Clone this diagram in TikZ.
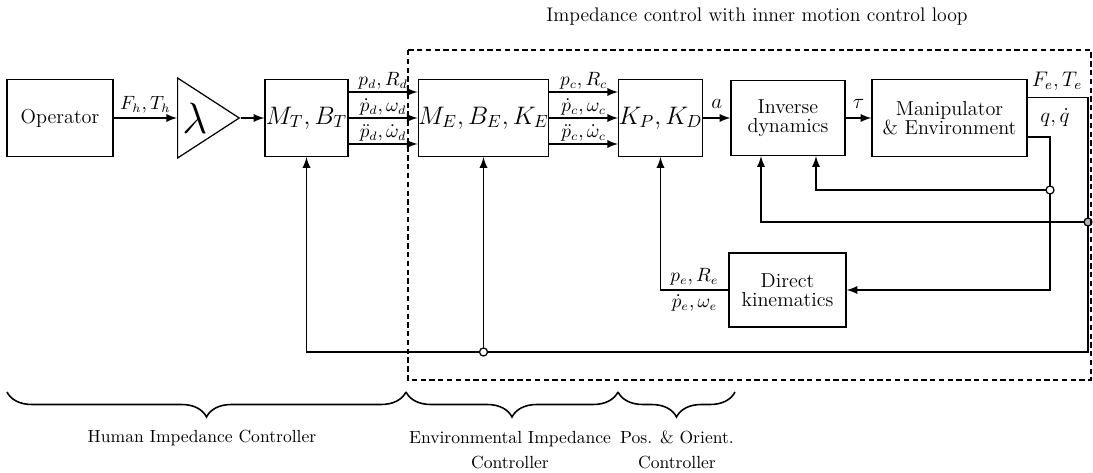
\documentclass[tikz,border=0pt]{standalone}
\usepackage{amsmath}
\usetikzlibrary{arrows,positioning,shapes.geometric,decorations.pathreplacing}
\tikzset{>=latex}

\begin{document}
\begin{tikzpicture}[x=0.02cm, y=-0.02cm,
	block/.style={draw, line width=0.7pt, inner sep=0pt, minimum height=1.54cm, align=center, font=\fontsize{11.5}{11}\selectfont},
	gain/.style={draw, line width=0.7pt, isosceles triangle, isosceles triangle stretches, minimum width=1.6cm, minimum height=1.2cm, inner sep=0pt},
	sig/.style={line width=1.1pt},
	lbl/.style={font=\fontsize{10.5}{10.5}\selectfont, inner sep=0pt},
	biglbl/.style={font=\fontsize{13}{13}\selectfont, inner sep=1pt},
	joint/.style={circle, draw, line width=0.7pt, fill=white, inner sep=0pt, minimum size=0.16cm},
	brc/.style={decorate, decoration={brace, mirror, amplitude=0.5cm}, line width=0.9pt},
	ctl/.style={align=center, font=\fontsize{10}{14.2}\selectfont}]
	\useasboundingbox (0,0) rectangle (1093,473);

	% blocks
	\node[block, minimum width=2.12cm] (op) at (60,118) {Operator};
	\node[gain, anchor=west] (lam) at (177,118) {\fontsize{23}{23}\selectfont$\lambda$};
	\node[block, minimum width=1.66cm] (mt) at (306.5,118) {\fontsize{14}{14}\selectfont$M_T{,}\,B_T$};
	\node[block, minimum width=2.5cm] (me) at (483.5,118) {\fontsize{14}{14}\selectfont$M_E{,}\,B_E{,}\,K_E$};
	\node[block, minimum width=1.66cm] (kp) at (660.5,118) {\fontsize{14}{14}\selectfont$K_P{,}\,K_D$};
	\node[block, minimum width=2.28cm, minimum height=1.5cm] (inv) at (788,118) {Inverse\\dynamics};
	\node[block, minimum width=3.1cm] (man) at (949.5,118) {Manipulator\\\& Environment};
	\node[block, minimum width=2.34cm, minimum height=1.48cm] (dk) at (787.5,290) {Direct\\kinematics};

	\coordinate (qj) at (1050,190);
	\coordinate (fj) at (1088,222);
	\coordinate (bj) at (me.south |- 0,352);

	% forward path
	\draw[sig,->] (op) -- node[lbl, above=2pt, font=\fontsize{10.5}{10.5}\selectfont] {$F_h{,}\,T_h$} (lam);
	\draw[sig,->] (lam.apex) -- (mt);
	\draw[sig,->] ([yshift=0.52cm]mt.east) -- node[lbl, above=1pt] {$p_d{,}\,R_d$} ([yshift=0.52cm]me.west);
	\draw[sig,->] (mt.east) -- node[lbl, above=1pt] {$\dot p_d{,}\,\omega_d$} (me.west);
	\draw[sig,->] ([yshift=-0.52cm]mt.east) -- node[lbl, above=1pt] {$\ddot p_d{,}\,\dot\omega_d$} ([yshift=-0.52cm]me.west);
	\draw[sig,->] ([yshift=0.52cm]me.east) -- node[lbl, above=1pt] {$p_c{,}\,R_c$} ([yshift=0.52cm]kp.west);
	\draw[sig,->] (me.east) -- node[lbl, above=1pt] {$\dot p_c{,}\,\omega_c$} (kp.west);
	\draw[sig,->] ([yshift=-0.52cm]me.east) -- node[lbl, above=1pt] {$\ddot p_c{,}\,\dot\omega_c$} ([yshift=-0.52cm]kp.west);
	\draw[sig,->] (kp) -- node[biglbl, above=4pt] {$a$} (inv);
	\draw[sig,->] (inv) -- node[biglbl, above=4pt] {$\tau$} (man);

	% feedback
	\draw[sig,->] ([yshift=0.41cm]man.east) -| (fj) |- (bj) -| (mt.south);
	\draw[sig,->] (bj) -- (me.south);
	\draw[sig,->] ([yshift=-0.38cm]man.east) -| (qj) |- (dk.east);
	\draw[sig,->] (qj) -| ([xshift=0.56cm]inv.south);
	\draw[sig,->] (fj) -| ([xshift=-0.54cm]inv.south);
	\draw[sig,->] (dk.west) -| node[lbl, pos=0.25, above=2pt] {$p_e{,}\,R_e$} node[lbl, pos=0.25, below=2pt] {$\dot p_e{,}\,\omega_e$} (kp.south);
	\node[biglbl, font=\fontsize{12}{12}\selectfont] (felab) at (1057,81) {$F_e{,}\,T_e$};
	\node[biglbl, font=\fontsize{12}{12}\selectfont] (qlab) at (1055,118) {$q{,}\,\dot q$};

	\node[joint] (qjc) at (qj) {};
	\node[joint, fill=black!30] (fjc) at (fj) {};
	\node[joint] (bjc) at (bj) {};

	% inner loop frame
	\draw[line width=0.7pt, dash pattern=on 3pt off 2pt] (408,50) rectangle (1091,380);
	\node[font=\fontsize{11.2}{11.2}\selectfont] (title) at (757,17) {Impedance control with inner motion control loop};

	% controller groups
	\draw[brc] (7,392) -- (406,392);
	\draw[brc] (406,392) -- (618,392);
	\draw[brc] (618,392) -- (735,392);
	\node[ctl] (hic) at (202,438) {Human Impedance Controller};
	\node[ctl] (eic) at (510,450) {Environmental Impedance\\Controller};
	\node[ctl] (poc) at (677,450) {Pos. \& Orient.\\Controller};
\end{tikzpicture}
\end{document}
